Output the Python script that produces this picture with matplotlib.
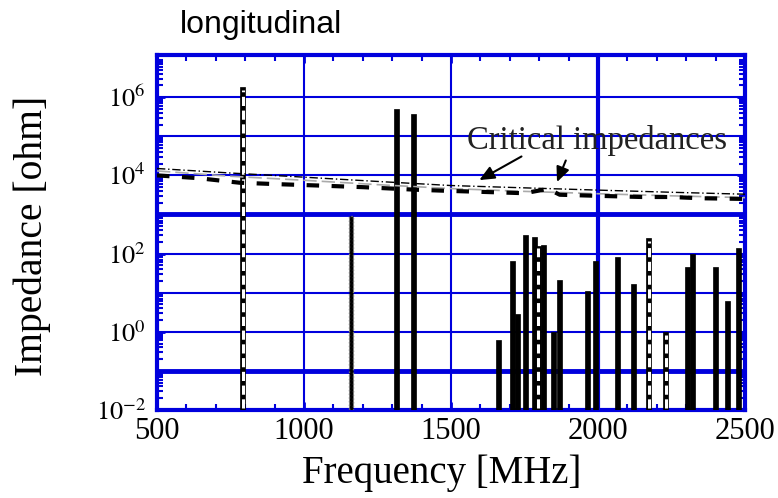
import matplotlib
matplotlib.use("Agg")
import matplotlib.pyplot as plt
from matplotlib.ticker import FixedLocator, LogLocator, NullFormatter, FixedFormatter
import numpy as np

# --- data ---
solid_freq = [1316, 1371, 1660, 1708, 1727, 1755, 1785, 1813, 1850, 1870, 1963, 1993,
              2065, 2122, 2303, 2320, 2401, 2442, 2479]
solid_imp = [5.0e5, 3.7e5, 0.6, 63, 2.9, 300, 270, 170, 1.0, 21, 11, 63,
             84, 17, 45, 100, 45, 6, 135]
hatch_freq = [792, 1797, 2173, 2231]
hatch_imp = [1.8e6, 160, 250, 1.0]
dotted_freq = [1160]
dotted_imp = [9e2]

crit_f = [500, 750, 1000, 1250, 1500, 1750, 2000, 2250, 2500]
crit_upper = [1.5e4, 1.15e4, 9.0e3, 7.0e3, 5.5e3, 4.8e3, 4.2e3, 3.7e3, 3.3e3]
crit_gray = [1.3e4, 9.5e3, 7.5e3, 5.8e3, 4.6e3, 3.9e3, 3.4e3, 3.0e3, 2.7e3]
crit_step_f = [500, 640, 780, 900, 1050, 1200, 1380, 1500, 1600, 1750, 1830, 1870,
               2000, 2150, 2250, 2350, 2500]
crit_step = [1.0e4, 8.5e3, 6.5e3, 6.0e3, 5.5e3, 5.0e3, 4.3e3, 4.0e3, 3.8e3, 3.5e3,
             4.5e3, 3.2e3, 3.0e3, 2.8e3, 2.8e3, 2.6e3, 2.5e3]

xticks = [500, 1000, 1500, 2000, 2500]
yticks = [1e-2, 1e0, 1e2, 1e4, 1e6]
ytick_labels = [r"$10^{-2}$", r"$10^{0}$", r"$10^{2}$", r"$10^{4}$", r"$10^{6}$"]

plt.rcParams["mathtext.fontset"] = "stix"
serif = "Liberation Serif"
blue = "#0000dd"

fig = plt.figure(figsize=(7.78, 4.98), dpi=100)
ax = fig.add_axes([0.2018, 0.1767, 0.7558, 0.7129])
ax.set_yscale("log")
ax.set_xlim(500, 2500)
ax.set_ylim(1e-2, 1.2e7)

# grid
for d in range(-1, 7):
    lw = 3.5 if d in (3, -1) else 1.5
    ax.axhline(10.0 ** d, color=blue, lw=lw, zorder=1)
for xv in (1000, 1500, 2000):
    lw = 3.0 if xv == 2000 else 1.5
    ax.axvline(xv, color=blue, lw=lw, zorder=1)

w = 17
base = 1e-2
ax.bar(solid_freq, np.array(solid_imp) - base, bottom=base, width=w, color="black",
       edgecolor="black", lw=0.5, zorder=3)
ax.bar(hatch_freq, np.array(hatch_imp) - base, bottom=base, width=w, color="black",
       edgecolor="black", lw=0.5, zorder=3)
ax.vlines(hatch_freq, base * 1.1, np.array(hatch_imp) * 0.85, colors="white",
          linestyles=(0, (3, 1.5)), lw=2.2, zorder=3.5)
ax.bar(dotted_freq, np.array(dotted_imp) - base, bottom=base, width=w * 0.75, color="black",
       edgecolor="#777777", lw=1.0, linestyle=":", zorder=3)

# critical impedance lines
ax.plot(crit_f, crit_gray, color="#aaaaaa", lw=1.2, ls=(0, (8, 3)), zorder=4)
ax.plot(crit_f, crit_upper, color="black", lw=1.0, ls=(0, (6, 2, 1, 2)), zorder=4)
ax.plot(crit_step_f, crit_step, color="black", lw=3.0, ls=(0, (3, 3)), zorder=4)

# annotation
ax.text(1996, 8e4, "Critical impedances", fontsize=23.5, family=serif,
        ha="center", va="center", color="#222222", zorder=5)
ax.annotate("", xy=(1588, 7.0e3), xytext=(1748, 3.3e4),
            arrowprops=dict(arrowstyle="-|>,head_length=0.9,head_width=0.4",
                            color="black", lw=1.5), zorder=5)
ax.annotate("", xy=(1857, 5.8e3), xytext=(1894, 2.8e4),
            arrowprops=dict(arrowstyle="-|>,head_length=0.9,head_width=0.4",
                            color="black", lw=1.5), zorder=5)

# ticks
ax.xaxis.set_major_locator(FixedLocator(xticks))
ax.xaxis.set_minor_locator(FixedLocator(np.arange(600, 2500, 100)))
ax.yaxis.set_major_locator(FixedLocator(yticks))
ax.yaxis.set_major_formatter(FixedFormatter(ytick_labels))
ax.yaxis.set_minor_locator(LogLocator(base=10, subs=np.arange(2, 10), numticks=30))
ax.yaxis.set_minor_formatter(NullFormatter())
ax.tick_params(which="both", direction="in", color=blue, top=True, right=True)
ax.tick_params(which="major", length=6, width=2)
ax.tick_params(which="minor", length=4, width=1.5)
ax.tick_params(axis="x", which="major", labelsize=22, pad=5)
ax.tick_params(axis="y", which="major", labelsize=19, pad=8)
for lab in ax.get_xticklabels():
    lab.set_family(serif)

for sp in ax.spines.values():
    sp.set_color(blue)
    sp.set_linewidth(3)

ax.set_xlabel("Frequency [MHz]", fontsize=28, family=serif)
ax.xaxis.set_label_coords(0.485, -0.125)
ax.set_ylabel("Impedance [ohm]", fontsize=28.5, family=serif)
ax.yaxis.set_label_coords(-0.18, 0.49)

fig.text(0.335, 0.95, "longitudinal", fontsize=23, family="Liberation Sans",
         ha="center", va="center")

fig.savefig("out.png", dpi=100)
